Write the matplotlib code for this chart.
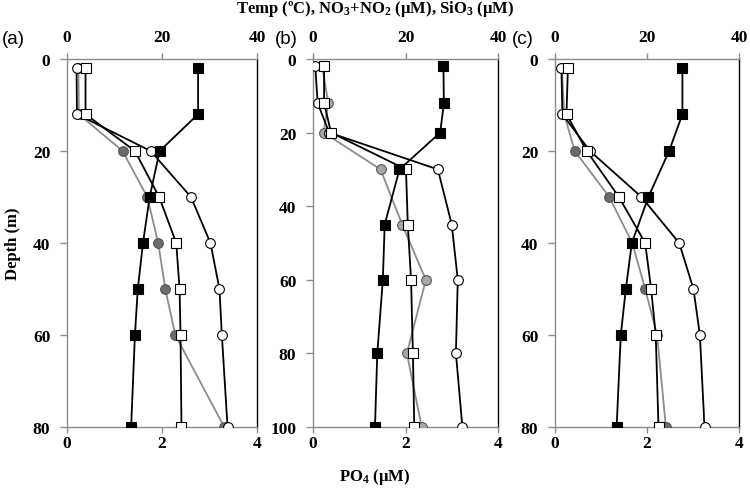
import matplotlib
matplotlib.use('Agg')
import matplotlib.pyplot as plt

plt.rcParams['font.family'] = 'Liberation Serif'
plt.rcParams['font.weight'] = 'bold'
plt.rcParams['mathtext.fontset'] = 'custom'
plt.rcParams['mathtext.rm'] = 'Liberation Serif:bold'
plt.rcParams['mathtext.it'] = 'Liberation Serif:bold'
plt.rcParams['mathtext.bf'] = 'Liberation Serif:bold'

# depth (m) per station
depth_a = [2, 12, 20, 30, 40, 50, 60, 80]
depth_b = [2, 12, 20, 30, 45, 60, 80, 100]
depth_c = [2, 12, 20, 30, 40, 50, 60, 80]

# temperature (oC)
temp_a = [27.6, 27.6, 19.5, 17.4, 16.0, 14.9, 14.3, 13.5]
temp_b = [28.2, 28.3, 27.5, 18.7, 15.5, 15.1, 13.9, 13.4]
temp_c = [27.7, 27.7, 24.8, 20.3, 16.7, 15.4, 14.3, 13.4]

# NO3+NO2 (uM)
no3_a = [3.9, 3.9, 14.3, 19.4, 23.0, 23.7, 23.9, 24.1]
no3_b = [2.4, 2.4, 3.9, 20.1, 20.5, 21.2, 21.6, 21.9]
no3_c = [2.8, 2.5, 6.9, 13.9, 19.6, 20.9, 21.9, 22.5]

# SiO3 (uM)
sio3_a = [2.0, 2.1, 17.6, 26.1, 30.2, 32.1, 32.6, 33.8]
sio3_b = [0.5, 1.0, 3.5, 27.0, 30.0, 31.3, 30.9, 32.3]
sio3_c = [1.4, 1.6, 7.6, 18.8, 27.0, 30.1, 31.5, 32.5]

# PO4 (uM)
po4_a = [0.24, 0.25, 1.17, 1.69, 1.92, 2.07, 2.28, 3.31]
po4_b = [0.2, 0.33, 0.23, 1.46, 1.93, 2.44, 2.03, 2.35]
po4_c = [0.15, 0.2, 0.43, 1.18, 1.68, 1.96, 2.22, 2.41]

panels = [
    ('(a)', depth_a, temp_a, no3_a, sio3_a, po4_a, 80, '#6b6b6b'),
    ('(b)', depth_b, temp_b, no3_b, sio3_b, po4_b, 100, '#a8a8a8'),
    ('(c)', depth_c, temp_c, no3_c, sio3_c, po4_c, 80, '#6b6b6b'),
]
lefts = [67, 313, 555]
widths = [190, 185, 184]
label_x = [2, 275, 512]

W, H = 750, 489
fig = plt.figure(figsize=(W / 100, H / 100), dpi=100)

grey = '#8c8c8c'

for (lab, dep, temp, no3, sio3, po4, dmax, pcol), lx, wx, tx in zip(panels, lefts, widths, label_x):
    ax = fig.add_axes([lx / W, 61 / H, wx / W, 368 / H])
    axt = ax.twiny()

    # PO4 on the bottom axis
    ax.plot(po4, dep, color=grey, lw=1.3, marker='o', ms=7,
            mfc=pcol, mec='#555555', mew=0.8, zorder=3)
    ax.set_xlim(0, 4)
    ax.set_ylim(dmax, 0)
    ax.set_xticks([0, 2, 4])
    ax.set_yticks(range(0, dmax + 1, 20))

    # temp, nutrients on the top axis
    axt.plot(sio3, dep, color='black', lw=1.3, marker='o', ms=7,
             mfc='white', mec='black', mew=0.8, zorder=3)
    axt.plot(no3, dep, color='black', lw=1.3, marker='s', ms=7.5,
             mfc='white', mec='black', mew=0.8, zorder=4)
    axt.plot(temp, dep, color='black', lw=1.3, marker='s', ms=7.5,
             mfc='black', mec='black', mew=0.8, zorder=5)
    axt.set_xlim(0, 40)
    axt.set_xticks([0, 20, 40])
    axt.set_ylim(dmax, 0)

    for sp in ['left', 'bottom']:
        ax.spines[sp].set_color(grey)
        ax.spines[sp].set_linewidth(1.0)
    ax.spines['top'].set_visible(False)
    ax.spines['right'].set_color('black')
    ax.spines['right'].set_linewidth(1.0)
    for sp in ['left', 'bottom', 'right']:
        axt.spines[sp].set_visible(False)
    axt.spines['top'].set_color(grey)
    axt.spines['top'].set_linewidth(1.0)

    ax.tick_params(axis='x', direction='out', length=4, width=1, color=grey,
                   pad=2, labelsize=12.5)
    ax.tick_params(axis='y', direction='out', length=5, width=1, color=grey,
                   pad=7, labelsize=12.5)
    axt.tick_params(axis='x', direction='out', length=4, width=1, color=grey,
                    pad=6, labelsize=12.5)

    fig.text(tx / W, 1 - 39 / H, lab, family='Liberation Sans',
             weight='normal', fontsize=13.5, ha='left', va='center')

fig.text(375 / W, 1 - 9 / H, 'Temp (ºC), NO$_3$+NO$_2$ (µM), SiO$_3$ (µM)',
         fontsize=12, ha='center', va='center')
fig.text(375 / W, 1 - 477 / H, 'PO$_4$ (µM)',
         fontsize=12, ha='center', va='center')
fig.text(13 / W, 1 - 244 / H, 'Depth (m)', rotation=90,
         fontsize=12, ha='center', va='center')

fig.savefig('out.png', dpi=100)
